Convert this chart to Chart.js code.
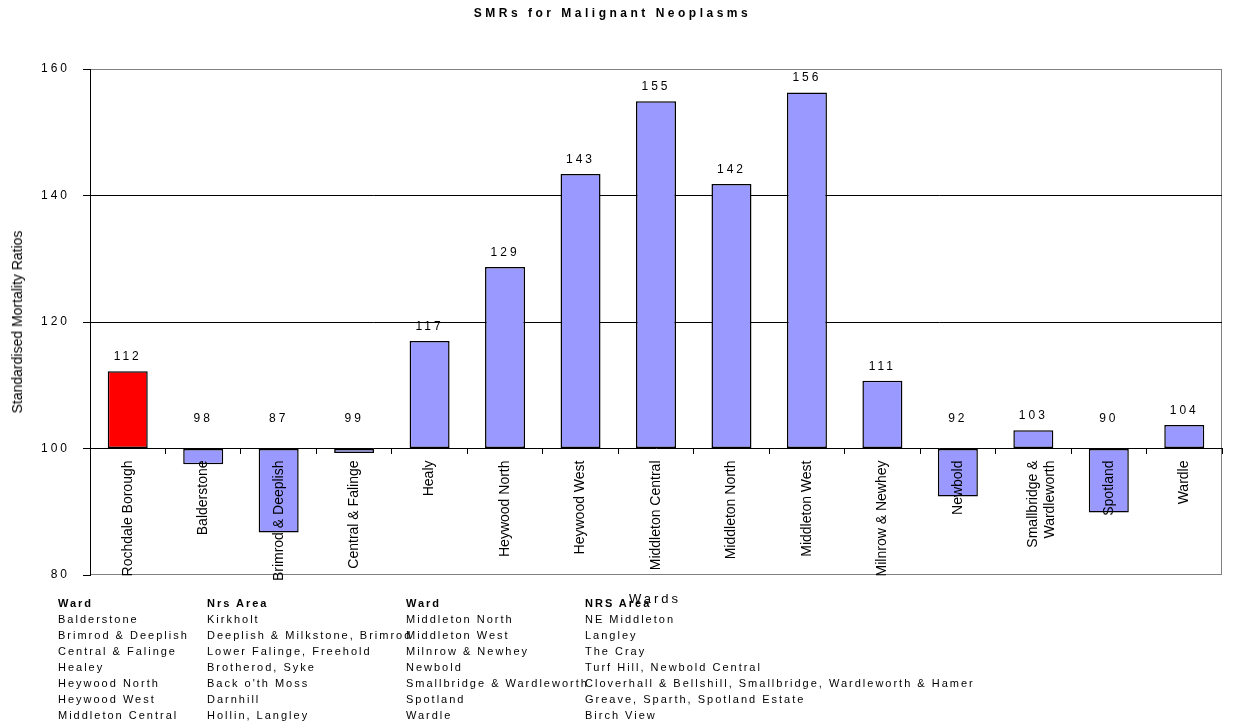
<!DOCTYPE html>
<html lang="en">
<head>
<meta charset="UTF-8">
<title>SMRs for Malignant Neoplasms</title>
<script src="https://cdn.jsdelivr.net/npm/chart.js"></script>
<style>
    body {
        margin: 0;
        background: #fff;
        font-family: "Liberation Sans", Arial, sans-serif;
        color: #000;
    }
    .wrap {
        position: relative;
        width: 1234px;
        height: 726px;
        overflow: hidden;
    }
    #smrChart {
        position: absolute;
        left: 0;
        top: 0;
    }
    .title {
        position: absolute;
        top: 6px;
        left: 0;
        width: 1225px;
        text-align: center;
        font-weight: bold;
        font-size: 12px;
        letter-spacing: 3.5px;
    }
    .ytitle {
        position: absolute;
        left: 17px;
        top: 322px;
        transform: translate(-50%, -50%) rotate(-90deg);
        font-size: 14px;
        white-space: nowrap;
    }
    .xtitle {
        position: absolute;
        left: 655px;
        top: 598px;
        transform: translate(-50%, -50%);
        font-size: 13px;
        letter-spacing: 3px;
        white-space: nowrap;
    }
    .col {
        position: absolute;
        top: 595px;
        font-size: 11px;
        line-height: 16px;
        letter-spacing: 2px;
        white-space: nowrap;
    }
    .col b {
        display: block;
    }
</style>
</head>
<body>
<div class="wrap">
    <canvas id="smrChart" width="1234" height="726"></canvas>
    <div class="title">SMRs for Malignant Neoplasms</div>
    <div class="ytitle">Standardised Mortality Ratios</div>
    <div class="xtitle">Wards</div>
    <div id="key"></div>
</div>

<script>
    // chart data
    const wards = ["Rochdale Borough", "Balderstone", "Brimrod & Deeplish", "Central & Falinge", "Healy",
        "Heywood North", "Heywood West", "Middleton Central", "Middleton North", "Middleton West",
        "Milnrow & Newhey", "Newbold", ["Smallbridge &", "Wardleworth"], "Spotland", "Wardle"];
    const smr = [112.2, 97.5, 86.7, 99.3, 117.0, 128.7, 143.4, 154.9, 141.8, 156.3, 110.7, 92.4, 102.9, 89.9, 103.7];
    const yTicks = [80, 100, 120, 140, 160];
    const baseline = 100;

    // key table under the chart
    const keyHeaders = ["Ward", "Nrs Area", "Ward", "NRS Area"];
    const keyWards1 = ["Balderstone", "Brimrod & Deeplish", "Central & Falinge", "Healey", "Heywood North", "Heywood West", "Middleton Central"];
    const keyAreas1 = ["Kirkholt", "Deeplish & Milkstone, Brimrod", "Lower Falinge, Freehold", "Brotherod, Syke", "Back o'th Moss", "Darnhill", "Hollin, Langley"];
    const keyWards2 = ["Middleton North", "Middleton West", "Milnrow & Newhey", "Newbold", "Smallbridge & Wardleworth", "Spotland", "Wardle"];
    const keyAreas2 = ["NE Middleton", "Langley", "The Cray", "Turf Hill, Newbold Central", "Cloverhall & Bellshill, Smallbridge, Wardleworth & Hamer", "Greave, Sparth, Spotland Estate", "Birch View"];

    const family = '"Liberation Sans", Arial, sans-serif';

    const keyCols = [keyWards1, keyAreas1, keyWards2, keyAreas2];
    const keyX = [58, 207, 406, 585];
    const key = document.getElementById("key");
    keyCols.forEach((rows, c) => {
        const div = document.createElement("div");
        div.className = "col";
        div.style.left = keyX[c] + "px";
        const head = document.createElement("b");
        head.textContent = keyHeaders[c];
        div.appendChild(head);
        rows.forEach(r => {
            const line = document.createElement("div");
            line.textContent = r;
            div.appendChild(line);
        });
        key.appendChild(div);
    });

    // gray plot frame, and spaced text for the value axis
    const frameAndSpacing = {
        id: "frameAndSpacing",
        beforeDraw(chart) {
            const { ctx, chartArea: a } = chart;
            ctx.save();
            ctx.strokeStyle = "#808080";
            ctx.lineWidth = 1;
            ctx.strokeRect(Math.round(a.left) + 0.5, Math.round(a.top) + 0.5,
                Math.round(a.width) - 1, Math.round(a.height) - 1);
            ctx.restore();
            ctx.letterSpacing = "3px";
        },
        beforeDatasetsDraw(chart) {
            chart.ctx.letterSpacing = "0px";
        }
    };

    // value labels above the bars
    const valueLabels = {
        id: "valueLabels",
        afterDraw(chart) {
            const ctx = chart.ctx;
            const meta = chart.getDatasetMeta(0);
            const y0 = chart.scales.y.getPixelForValue(baseline);
            ctx.save();
            ctx.letterSpacing = "3px";
            ctx.font = "12px " + family;
            ctx.fillStyle = "#000";
            ctx.textAlign = "center";
            ctx.textBaseline = "middle";
            meta.data.forEach((bar, i) => {
                const v = smr[i];
                const y = v >= baseline ? bar.y - 14.5 : y0 - 30;
                ctx.fillText(String(Math.round(v)), bar.x, y);
            });
            ctx.restore();
        }
    };

    const ctx = document.getElementById("smrChart").getContext("2d");
    new Chart(ctx, {
        type: "bar",
        data: {
            labels: wards,
            datasets: [{
                label: "SMR",
                data: smr,
                base: baseline,
                backgroundColor: wards.map((w, i) => i === 0 ? "#FF0000" : "#9999FF"),
                borderColor: "#000",
                borderWidth: 1.5,
                borderSkipped: false,
                barPercentage: 0.53,
                categoryPercentage: 1
            }]
        },
        options: {
            responsive: false,
            devicePixelRatio: 1,
            animation: false,
            layout: {
                padding: { left: 0, top: 69, right: 12, bottom: 151 }
            },
            plugins: {
                legend: { display: false },
                title: { display: false },
                tooltip: { enabled: false }
            },
            scales: {
                x: {
                    type: "category",
                    position: { y: baseline },
                    offset: true,
                    grid: {
                        offset: true,
                        drawOnChartArea: false,
                        drawTicks: true,
                        tickLength: 5,
                        tickColor: "#000",
                        z: 1
                    },
                    border: { color: "#000", width: 1, z: 1 },
                    ticks: {
                        z: 1,
                        autoSkip: false,
                        minRotation: 90,
                        maxRotation: 90,
                        padding: 7,
                        color: "#000",
                        font: { size: 14, family: family }
                    }
                },
                y: {
                    min: yTicks[0],
                    max: yTicks[yTicks.length - 1],
                    afterFit(scale) { scale.width = 90; },
                    afterBuildTicks(scale) { scale.ticks = yTicks.map(v => ({ value: v })); },
                    grid: {
                        color: c => (c.tick && c.tick.value > yTicks[1] && c.tick.value < yTicks[yTicks.length - 1]) ? "#000" : "rgba(0,0,0,0)",
                        tickColor: "#000",
                        tickLength: 7
                    },
                    border: { color: "#000", width: 1 },
                    ticks: {
                        padding: 13,
                        color: "#000",
                        font: { size: 12, family: family }
                    }
                }
            }
        },
        plugins: [frameAndSpacing, valueLabels]
    });
</script>
</body>
</html>
